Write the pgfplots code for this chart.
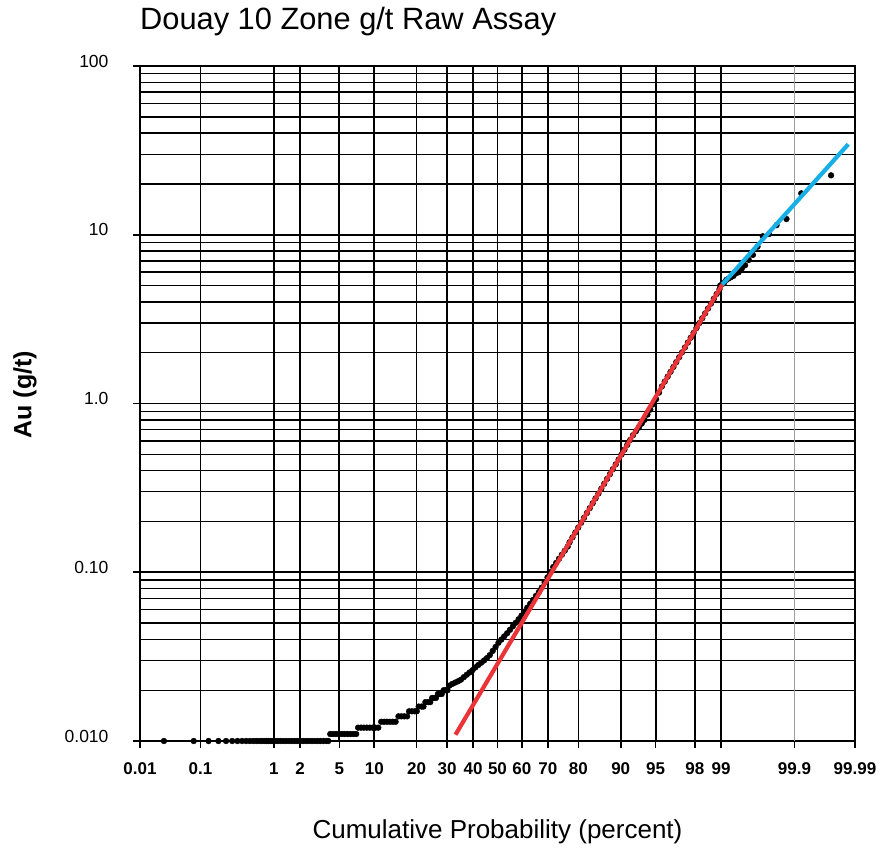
\documentclass[border=0pt]{standalone}
\usepackage{pgfplots}
\pgfplotsset{compat=1.18}
\usepackage{pgfplotstable}
\usepackage{fontspec}
\setmainfont{Liberation Sans}

\definecolor{fitred}{RGB}{234,52,56}
\definecolor{fitblue}{RGB}{24,174,230}

% Au assays on a normal-probability scale: x is the standard normal
% quantile of the plotting position, y is Au in g/t.
\pgfplotstableread{
z      au
-3.470 0.010
-3.160 0.010
-3.006 0.010
-2.903 0.010
-2.824 0.010
-2.760 0.010
-2.705 0.010
-2.657 0.010
-2.614 0.010
-2.576 0.010
-2.541 0.010
-2.509 0.010
-2.480 0.010
-2.453 0.010
-2.427 0.010
-2.403 0.010
-2.380 0.010
-2.358 0.010
-2.337 0.010
-2.317 0.010
-2.290 0.010
-2.260 0.010
-2.230 0.010
-2.200 0.010
-2.170 0.010
-2.140 0.010
-2.110 0.010
-2.080 0.010
-2.050 0.010
-2.020 0.010
-1.990 0.010
-1.960 0.010
-1.930 0.010
-1.900 0.010
-1.870 0.010
-1.840 0.010
-1.810 0.010
-1.780 0.010
-1.760 0.010
-1.740 0.011
-1.710 0.011
-1.680 0.011
-1.650 0.011
-1.620 0.011
-1.590 0.011
-1.560 0.011
-1.530 0.011
-1.500 0.011
-1.470 0.011
-1.450 0.012
-1.420 0.012
-1.390 0.012
-1.360 0.012
-1.330 0.012
-1.300 0.012
-1.270 0.012
-1.240 0.012
-1.210 0.013
-1.180 0.013
-1.150 0.013
-1.120 0.013
-1.090 0.013
-1.060 0.013
-1.030 0.014
-1.000 0.014
-0.970 0.014
-0.940 0.014
-0.920 0.015
-0.890 0.015
-0.860 0.015
-0.840 0.015
-0.820 0.016
-0.790 0.016
-0.770 0.016
-0.750 0.017
-0.720 0.017
-0.700 0.017
-0.680 0.018
-0.660 0.018
-0.640 0.018
-0.620 0.019
-0.600 0.019
-0.580 0.019
-0.560 0.020
-0.540 0.020
-0.520 0.020
-0.500 0.0213
-0.470 0.0218
-0.440 0.0222
-0.410 0.0226
-0.380 0.0231
-0.350 0.0239
-0.320 0.0247
-0.290 0.0255
-0.260 0.0263
-0.230 0.0273
-0.200 0.0282
-0.170 0.0291
-0.140 0.0300
-0.110 0.0310
-0.080 0.0323
-0.050 0.0342
-0.020 0.0361
0.010 0.0382
0.040 0.0399
0.070 0.0417
0.100 0.0435
0.130 0.0456
0.160 0.0478
0.190 0.0502
0.220 0.0527
0.250 0.0554
0.280 0.0585
0.310 0.0617
0.340 0.0651
0.370 0.0686
0.400 0.0724
0.430 0.0763
0.460 0.0811
0.490 0.0871
0.520 0.0933
0.550 0.1002
0.580 0.1074
0.610 0.1136
0.640 0.1202
0.670 0.1271
0.700 0.1343
0.730 0.1419
0.750 0.1507
0.780 0.1610
0.810 0.1721
0.840 0.1839
0.870 0.1965
0.900 0.2101
0.930 0.2245
0.960 0.2399
0.990 0.2564
1.020 0.2740
1.050 0.2928
1.080 0.3129
1.110 0.3344
1.140 0.3574
1.170 0.3819
1.200 0.4081
1.230 0.4361
1.260 0.4661
1.290 0.4981
1.320 0.5323
1.350 0.5688
1.380 0.6079
1.410 0.6496
1.440 0.6850
1.470 0.7200
1.500 0.7600
1.530 0.8000
1.560 0.8600
1.590 0.9200
1.620 0.9900
1.650 1.0600
1.680 1.1600
1.710 1.2626
1.740 1.3493
1.770 1.4421
1.800 1.5411
1.830 1.6470
1.860 1.7601
1.890 1.8811
1.920 2.0103
1.950 2.1485
1.980 2.2961
2.010 2.4539
2.040 2.6225
2.070 2.8028
2.100 2.9954
2.130 3.2012
2.160 3.4200
2.190 3.6553
2.220 3.9050
2.250 4.1740
2.280 4.4600
2.310 4.7680
2.317 5.00
2.337 5.10
2.358 5.20
2.380 5.40
2.403 5.50
2.427 5.60
2.453 5.70
2.480 5.90
2.509 6.00
2.541 6.30
2.576 6.60
2.614 7.10
2.657 7.60
2.705 8.50
2.760 9.80
2.824 10.1
2.903 11.4
3.006 12.4
3.160 17.6
3.470 22.5
}\assays

\begin{document}
\begin{tikzpicture}[x=1pt,y=1pt]
\begin{axis}[
  at={(0pt,0pt)}, anchor=south west,
  scale only axis, width=715pt, height=675pt,
  xmin=-3.719, xmax=3.719,
  ymode=log, ymin=0.01, ymax=100,
  /pgf/number format/assume math mode=true,
  xtick={-3.719,-3.090,-2.326,-2.054,-1.645,-1.282,-0.842,-0.524,-0.253,0,0.253,0.524,0.842,1.282,1.645,2.054,2.326,3.719},
  xticklabels={0.01,0.1,1,2,5,10,20,30,40,50,60,70,80,90,95,98,99,99.99},
  extra x ticks={3.090},
  extra x tick labels={99.9},
  extra x tick style={major grid style={gray!75, line width=1.7pt}},
  ytick={0.01,0.1,1,10,100},
  yticklabels={0.010,0.10,1.0,10,100},
  minor ytick={0.02,0.03,0.04,0.05,0.06,0.07,0.08,0.09,
               0.2,0.3,0.4,0.5,0.6,0.7,0.8,0.9,
               2,3,4,5,6,7,8,9,20,30,40,50,60,70,80,90},
  xtick pos=lower, ytick pos=left,
  xmajorgrids, ymajorgrids, yminorgrids,
  major grid style={black, line width=1.8pt},
  minor grid style={black, line width=1.4pt},
  axis line style={black, line width=2.2pt},
  tick align=outside,
  major tick length=7pt, minor tick length=0pt,
  tick style={black, line width=1.6pt},
  x tick label style={font=\fontsize{17}{17}\selectfont\bfseries, yshift=-11pt},
  y tick label style={font=\fontsize{17.5}{17.5}\selectfont, xshift=-21pt, yshift=5pt},
  xlabel={Cumulative Probability (percent)},
  ylabel={\bfseries Au (g/t)},
  xlabel style={font=\fontsize{26}{26}\selectfont, at={(axis description cs:0.5,0)}, anchor=center, yshift=-91pt},
  ylabel style={font=\fontsize{25}{25}\selectfont, at={(axis description cs:-0.161,0.513)}, anchor=center},
  clip=false,
  clip marker paths=true,
]
\addplot[only marks, mark=*, mark size=2.9pt, black] table[x=z, y=au] {\assays};
\addplot[fitred, line width=4.2pt] coordinates {(-0.437,0.0109) (2.339,5.08)};
\addplot[fitblue, line width=4.2pt] coordinates {(2.339,5.08) (3.649,34.4)};
\end{axis}
\node[anchor=west, inner sep=0pt, font=\fontsize{30.8}{30.8}\selectfont] at (0pt,719pt) {Douay 10 Zone g/t Raw Assay};
\path[use as bounding box] (-140pt,-111pt) rectangle (741pt,741pt);
\end{tikzpicture}
\end{document}
